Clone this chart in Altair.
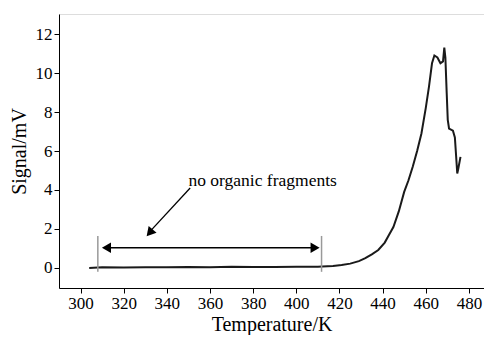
import altair as alt
import pandas as pd

temps = [304, 310, 320, 330, 340, 350, 360, 370, 380, 390, 400, 410, 412, 417, 421, 425,
         429, 432, 435, 438, 441, 443, 445, 447.5, 450, 452, 454, 456, 458, 460, 461.5,
         462.9, 464, 465.4, 466.8, 468, 468.6, 469.1, 469.7, 470.2, 470.8, 472.6, 473.5,
         474.1, 474.6, 475.1, 476.1]
signal = [0.0, 0.03, 0.02, 0.04, 0.03, 0.05, 0.04, 0.06, 0.05, 0.05, 0.06, 0.06, 0.07, 0.1,
          0.15, 0.22, 0.35, 0.5, 0.7, 0.92, 1.3, 1.7, 2.1, 2.9, 3.9, 4.5, 5.2, 6.0, 6.9, 8.2,
          9.3, 10.5, 10.9, 10.8, 10.5, 10.6, 11.3, 10.8, 9.0, 7.6, 7.15, 7.04, 6.7, 5.7, 4.85,
          5.1, 5.7]

x_ticks = [300, 320, 340, 360, 380, 400, 420, 440, 460, 480]
y_ticks = [0, 2, 4, 6, 8, 10, 12]

# annotation values
bar_x = [308, 411.7]
bar_y = [-0.2, 1.64]
arrow_y = [1.03]
arrow_x = [309.5, 411.2]
label_text = ["no organic fragments"]
label_pos = [350, 4.45]
diag_start = [350.8, 4.1]
diag_end = [330.5, 1.5]

FONT = "Liberation Serif"
xs = alt.Scale(domain=[290, 487], nice=False, zero=False)
ys = alt.Scale(domain=[-1.03, 13.03], nice=False, zero=False)

df = pd.DataFrame({"T": temps, "S": signal})

common = dict(grid=False, tickColor="black", domainColor="black", tickSize=5,
              labelFontSize=17, titleFontSize=20, labelFont=FONT, titleFont=FONT,
              titleFontWeight="normal", labelColor="black", titleColor="black")

line = alt.Chart(df).mark_line(color="#1a1a1a", strokeWidth=2).encode(
    x=alt.X("T:Q", scale=xs,
            axis=alt.Axis(values=x_ticks, title="Temperature/K", labelPadding=2,
                          titlePadding=3, **common)),
    y=alt.Y("S:Q", scale=ys,
            axis=alt.Axis(values=y_ticks, title="Signal/mV", labelPadding=2,
                          titlePadding=6, **common)),
)

bars_df = pd.DataFrame({"T": bar_x, "y1": [bar_y[0]] * 2, "y2": [bar_y[1]] * 2})
bars = alt.Chart(bars_df).mark_rule(color="#999999", strokeWidth=1.5).encode(
    x=alt.X("T:Q", scale=xs), y=alt.Y("y1:Q", scale=ys), y2="y2:Q")

harrow_df = pd.DataFrame({"x1": [arrow_x[0] + 3], "x2": [arrow_x[1] - 3], "y": arrow_y})
harrow = alt.Chart(harrow_df).mark_rule(color="black", strokeWidth=1.5).encode(
    x=alt.X("x1:Q", scale=xs), x2="x2:Q", y=alt.Y("y:Q", scale=ys))

heads_df = pd.DataFrame({"x": [arrow_x[0] + 2.5, arrow_x[1] - 2.5], "y": arrow_y * 2,
                         "shape": ["triangle-left", "triangle-right"]})
heads = alt.Chart(heads_df).mark_point(filled=True, color="black", opacity=1, size=110).encode(
    x=alt.X("x:Q", scale=xs), y=alt.Y("y:Q", scale=ys),
    shape=alt.Shape("shape:N", scale=None))

diag_df = pd.DataFrame({"x1": [diag_start[0]], "y1": [diag_start[1]],
                        "x2": [diag_end[0] + 1.5], "y2": [diag_end[1] + 0.35]})
diag = alt.Chart(diag_df).mark_rule(color="black", strokeWidth=1.3).encode(
    x=alt.X("x1:Q", scale=xs), y=alt.Y("y1:Q", scale=ys), x2="x2:Q", y2="y2:Q")

dhead_df = pd.DataFrame({"x": [diag_end[0] + 1.5], "y": [diag_end[1] + 0.3]})
dhead = alt.Chart(dhead_df).mark_point(filled=True, color="black", opacity=1, size=110,
                                       shape="triangle-up", angle=221).encode(
    x=alt.X("x:Q", scale=xs), y=alt.Y("y:Q", scale=ys))

text_df = pd.DataFrame({"x": [label_pos[0]], "y": [label_pos[1]], "t": label_text})
text = alt.Chart(text_df).mark_text(font=FONT, fontSize=17.5, align="left", baseline="middle",
                                    color="black").encode(
    x=alt.X("x:Q", scale=xs), y=alt.Y("y:Q", scale=ys), text="t:N")

chart = alt.layer(line, bars, harrow, heads, diag, dhead, text).properties(
    width=425, height=274,
    autosize=alt.AutoSizeParams(type="none"),
    padding={"left": 51, "top": 6, "right": 0, "bottom": 47},
).configure_view(stroke="black", strokeWidth=1.2).configure(background="white")

chart.save("out.html", embed_options={"renderer": "svg", "actions": False})
